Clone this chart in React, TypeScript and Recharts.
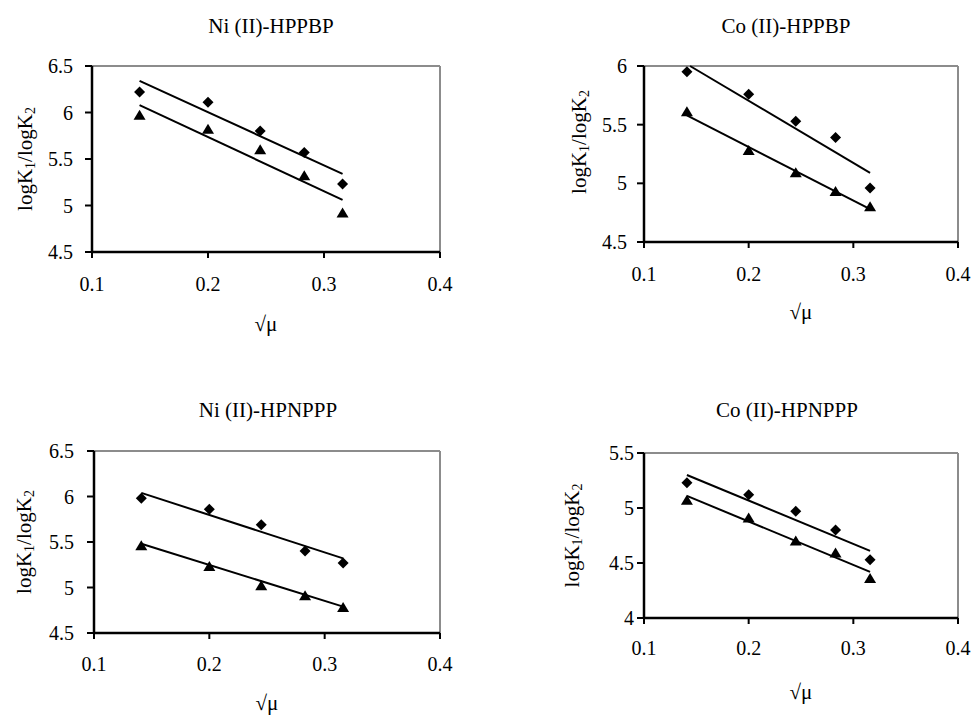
import { ScatterChart, Scatter, XAxis, YAxis, ReferenceLine } from "recharts";

// square root of ionic strength
const SQRT_MU = [0.141, 0.2, 0.245, 0.283, 0.316];
const FIT_X = [0.141, 0.316];
const X_TICKS = [0.1, 0.2, 0.3, 0.4];

// Ni(II)-HPPBP
const NI_HPPBP_K1 = [6.22, 6.11, 5.8, 5.57, 5.23];
const NI_HPPBP_K2 = [5.97, 5.82, 5.6, 5.32, 4.92];
const NI_HPPBP_FIT1 = [6.34, 5.34];
const NI_HPPBP_FIT2 = [6.08, 5.06];

// Co(II)-HPPBP
const CO_HPPBP_K1 = [5.95, 5.76, 5.53, 5.39, 4.96];
const CO_HPPBP_K2 = [5.61, 5.28, 5.09, 4.93, 4.8];
const CO_HPPBP_FIT1_X = [0.144, 0.316];
const CO_HPPBP_FIT1 = [6.0, 5.09];
const CO_HPPBP_FIT2 = [5.58, 4.78];

// Ni(II)-HPNPPP
const NI_HPNPPP_K1 = [5.98, 5.86, 5.69, 5.4, 5.27];
const NI_HPNPPP_K2 = [5.46, 5.23, 5.02, 4.91, 4.78];
const NI_HPNPPP_FIT1 = [6.04, 5.32];
const NI_HPNPPP_FIT2 = [5.48, 4.79];

// Co(II)-HPNPPP
const CO_HPNPPP_K1 = [5.23, 5.12, 4.97, 4.8, 4.53];
const CO_HPNPPP_K2 = [5.07, 4.91, 4.7, 4.59, 4.36];
const CO_HPNPPP_FIT1 = [5.3, 4.61];
const CO_HPNPPP_FIT2 = [5.11, 4.42];

const Y_TICKS_A = [4.5, 5, 5.5, 6, 6.5];
const Y_TICKS_B = [4.5, 5, 5.5, 6];
const Y_TICKS_C = [4, 4.5, 5, 5.5];

const FONT = "'Liberation Serif', 'Times New Roman', serif";

const pts = (xs: number[], ys: number[]) => xs.map((x, i) => ({ x, y: ys[i] }));

const Diamond = (p: any) => (
  <polygon
    points={`${p.cx},${p.cy - 5.5} ${p.cx + 5.5},${p.cy} ${p.cx},${p.cy + 5.5} ${p.cx - 5.5},${p.cy}`}
    fill="#000"
  />
);
const Triangle = (p: any) => (
  <polygon
    points={`${p.cx},${p.cy - 5.5} ${p.cx + 6},${p.cy + 4.5} ${p.cx - 6},${p.cy + 4.5}`}
    fill="#000"
  />
);
const NoMark = () => <g />;

const XTick = (p: any) => (
  <text x={p.x} y={p.y} dy="0.71em" textAnchor="middle" fontSize={20} fill="#000" style={{ fontFamily: FONT }}>
    {p.payload.value}
  </text>
);
const YTick = (p: any) => (
  <text x={p.x} y={p.y} dy="0.355em" textAnchor="end" fontSize={20} fill="#000" style={{ fontFamily: FONT }}>
    {p.payload.value}
  </text>
);

function YLabel(props: any) {
  const { viewBox, off, dy } = props;
  const cx = viewBox.x + viewBox.width - off;
  const cy = viewBox.y + viewBox.height / 2 + dy;
  return (
    <text
      x={cx}
      y={cy}
      transform={`rotate(-90 ${cx} ${cy})`}
      textAnchor="middle"
      dominantBaseline="central"
      fontSize={21}
      style={{ fontFamily: FONT }}
      fill="#000"
    >
      logK<tspan dy={5} fontSize={14}>1</tspan>
      <tspan dy={-5}>/logK</tspan>
      <tspan dy={5} fontSize={14}>2</tspan>
    </text>
  );
}

function XLabel(props: any) {
  const { viewBox, off } = props;
  return (
    <text
      x={viewBox.x + viewBox.width / 2}
      y={viewBox.y + off}
      textAnchor="middle"
      dominantBaseline="central"
      fontSize={21}
      style={{ fontFamily: FONT }}
      fill="#000"
    >
      √μ
    </text>
  );
}

function Panel(p: any) {
  const { box, plot } = p;
  const yAxisW = 60;
  const xAxisH = 60;
  const margin = {
    left: plot.l - box.x - yAxisW,
    top: plot.t - box.y,
    right: box.x + box.w - plot.r,
    bottom: box.y + box.h - plot.b - xAxisH,
  };
  return (
    <>
      <div
        style={{
          position: "absolute",
          left: p.titleX - 150,
          top: p.titleY - 12,
          width: 300,
          textAlign: "center",
          fontFamily: FONT,
          fontSize: 21,
          lineHeight: "24px",
        }}
      >
        {p.title}
      </div>
      <div style={{ position: "absolute", left: box.x, top: box.y }}>
        <ScatterChart width={box.w} height={box.h} margin={margin}>
          <XAxis
            type="number"
            dataKey="x"
            domain={[0.1, 0.4]}
            ticks={X_TICKS}
            interval={0}
            height={xAxisH}
            tick={<XTick />}
            tickLine={{ stroke: "#000", strokeWidth: 2 }}
            axisLine={{ stroke: "#000", strokeWidth: 2.5 }}
            tickSize={6}
            tickMargin={p.xTickGap}
            label={<XLabel off={p.xLabelOff} />}
          />
          <YAxis
            type="number"
            dataKey="y"
            domain={p.yDomain}
            ticks={p.yTicks}
            interval={0}
            width={yAxisW}
            tick={<YTick />}
            tickLine={{ stroke: "#000", strokeWidth: 2 }}
            axisLine={{ stroke: "#000", strokeWidth: 2.5 }}
            tickSize={7}
            tickMargin={p.yTickGap}
            label={<YLabel off={p.yLabelOff} dy={p.yLabelDy} />}
          />
          <ReferenceLine y={p.yDomain[1]} stroke="#8c8c8c" strokeWidth={2} />
          <ReferenceLine x={0.4} stroke="#8c8c8c" strokeWidth={2} />
          <Scatter
            data={pts(p.fit1X || FIT_X, p.fit1)}
            shape={NoMark}
            line={{ stroke: "#000", strokeWidth: 2 }}
            isAnimationActive={false}
          />
          <Scatter
            data={pts(FIT_X, p.fit2)}
            shape={NoMark}
            line={{ stroke: "#000", strokeWidth: 2 }}
            isAnimationActive={false}
          />
          <Scatter data={pts(SQRT_MU, p.k1)} shape={Diamond} isAnimationActive={false} />
          <Scatter data={pts(SQRT_MU, p.k2)} shape={Triangle} isAnimationActive={false} />
        </ScatterChart>
      </div>
    </>
  );
}

export default function App() {
  return (
    <div style={{ position: "absolute", left: 0, top: 0, width: 974, height: 715, background: "#fff" }}>
      <Panel
        title="Ni (II)-HPPBP"
        titleX={271}
        titleY={26}
        box={{ x: 0, y: 0, w: 487, h: 350 }}
        plot={{ l: 92, t: 66, r: 440, b: 252 }}
        yDomain={[4.5, 6.5]}
        yTicks={Y_TICKS_A}
        xTickGap={19}
        yTickGap={12}
        xLabelOff={72}
        yLabelOff={67}
        yLabelDy={0}
        k1={NI_HPPBP_K1}
        k2={NI_HPPBP_K2}
        fit1={NI_HPPBP_FIT1}
        fit2={NI_HPPBP_FIT2}
      />
      <Panel
        title="Co (II)-HPPBP"
        titleX={786}
        titleY={26}
        box={{ x: 487, y: 0, w: 487, h: 350 }}
        plot={{ l: 644, t: 66, r: 958, b: 242 }}
        yDomain={[4.5, 6]}
        yTicks={Y_TICKS_B}
        xTickGap={19}
        yTickGap={10}
        xLabelOff={70}
        yLabelOff={65}
        yLabelDy={-12}
        k1={CO_HPPBP_K1}
        k2={CO_HPPBP_K2}
        fit1X={CO_HPPBP_FIT1_X}
        fit1={CO_HPPBP_FIT1}
        fit2={CO_HPPBP_FIT2}
      />
      <Panel
        title="Ni (II)-HPNPPP"
        titleX={268}
        titleY={410}
        box={{ x: 0, y: 360, w: 487, h: 355 }}
        plot={{ l: 94, t: 451, r: 440, b: 633 }}
        yDomain={[4.5, 6.5]}
        yTicks={Y_TICKS_A}
        xTickGap={18}
        yTickGap={13}
        xLabelOff={70}
        yLabelOff={70}
        yLabelDy={0}
        k1={NI_HPNPPP_K1}
        k2={NI_HPNPPP_K2}
        fit1={NI_HPNPPP_FIT1}
        fit2={NI_HPNPPP_FIT2}
      />
      <Panel
        title="Co (II)-HPNPPP"
        titleX={787}
        titleY={410}
        box={{ x: 487, y: 360, w: 487, h: 355 }}
        plot={{ l: 644, t: 453, r: 958, b: 618 }}
        yDomain={[4, 5.5]}
        yTicks={Y_TICKS_C}
        xTickGap={17}
        yTickGap={3}
        xLabelOff={74}
        yLabelOff={72}
        yLabelDy={0}
        k1={CO_HPNPPP_K1}
        k2={CO_HPNPPP_K2}
        fit1={CO_HPNPPP_FIT1}
        fit2={CO_HPNPPP_FIT2}
      />
    </div>
  );
}
